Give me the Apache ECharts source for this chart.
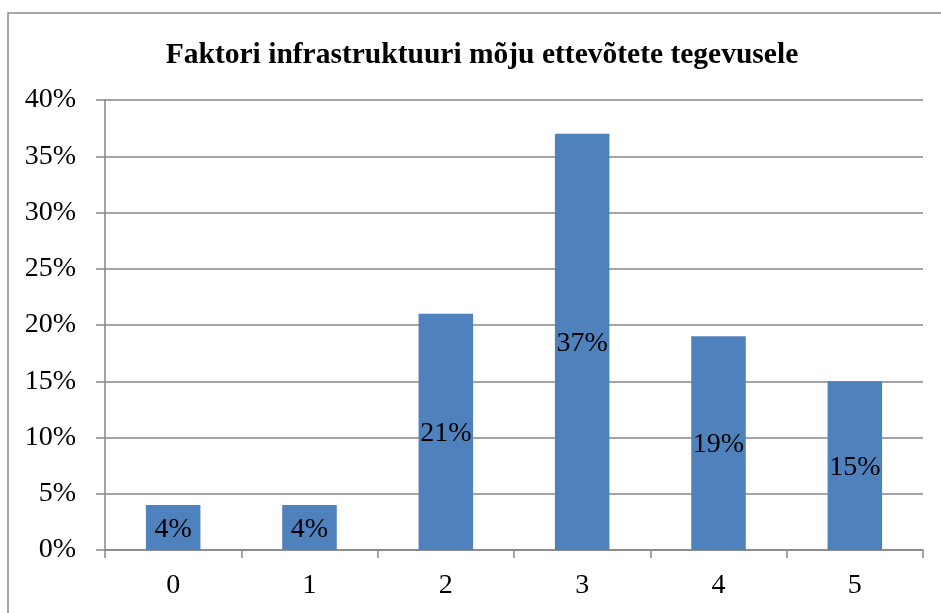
<!DOCTYPE html>
<html>
<head>
<meta charset="utf-8">
<script src="https://cdn.jsdelivr.net/npm/echarts@6/dist/echarts.min.js"></script>
<style>
html,body{margin:0;padding:0;background:#fff;}
#main{width:941px;height:613px;}
</style>
</head>
<body>
<div id="main"></div>
<script>
const titleText = 'Faktori infrastruktuuri mõju ettevõtete tegevusele';
const categories = ['0', '1', '2', '3', '4', '5'];
const values = [4, 4, 21, 37, 19, 15];
const yTicks = [0, 5, 10, 15, 20, 25, 30, 35, 40];

const FONT = '"Liberation Serif", "Times New Roman", serif';
const chart = echarts.init(document.getElementById('main'), null, {renderer: 'canvas'});
chart.setOption({
  animation: false,
  backgroundColor: '#fff',
  title: {
    text: titleText,
    left: 477,
    textAlign: 'center',
    top: 35,
    textStyle: {fontFamily: FONT, fontSize: 29.5, fontWeight: 'bold', color: '#000'}
  },
  graphic: [{
    type: 'rect',
    shape: {x: 8, y: 13, width: 980, height: 650},
    style: {fill: 'none', stroke: '#898989', lineWidth: 1.5},
    silent: true
  }],
  grid: {left: 105, right: 18, top: 100, bottom: 63, containLabel: false},
  xAxis: {
    type: 'category',
    data: categories,
    boundaryGap: true,
    axisLine: {show: true, lineStyle: {color: '#868686', width: 1.5}},
    axisTick: {show: true, length: 8, alignWithLabel: false, lineStyle: {color: '#868686', width: 1.5}},
    axisLabel: {fontFamily: FONT, fontSize: 28, color: '#000', margin: 22},
    splitLine: {show: false}
  },
  yAxis: {
    type: 'value',
    min: yTicks[0],
    max: yTicks[yTicks.length - 1],
    interval: 5,
    axisLine: {show: true, lineStyle: {color: '#868686', width: 1.5}},
    axisTick: {show: true, inside: false, length: 9, lineStyle: {color: '#868686', width: 1.5}},
    axisLabel: {fontFamily: FONT, fontSize: 28, color: '#000', margin: 29, formatter: '{value}%'},
    splitLine: {show: true, lineStyle: {color: '#868686', width: 1.5}}
  },
  series: [{
    type: 'bar',
    data: values,
    barCategoryGap: '60%',
    itemStyle: {color: '#4F81BD'},
    label: {
      show: true,
      position: 'inside',
      offset: [0, 2],
      formatter: '{c}%',
      fontFamily: FONT,
      fontSize: 28,
      color: '#000'
    }
  }]
});
</script>
</body>
</html>
